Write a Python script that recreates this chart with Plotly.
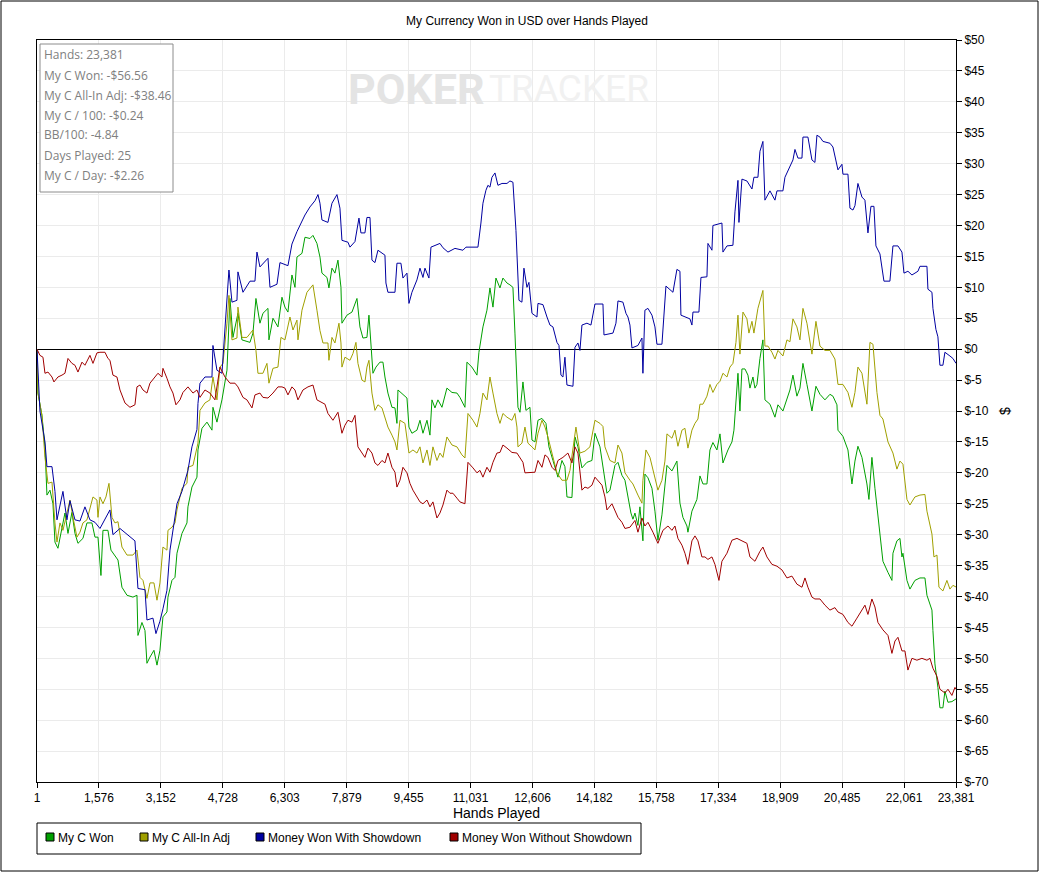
import plotly.graph_objects as go

# (hands played, dollars)
MY_C_WON = [
    (1, 0.0), (25, -7.1), (127, -10.7), (204, -15.8), (254, -23.6), (331, -22.8), (407, -25.0), (458, -31.2),
    (534, -32.2), (636, -29.0), (712, -26.5), (789, -29.8), (890, -26.4), (967, -29.8), (1043, -31.4),
    (1170, -30.6), (1272, -28.1), (1399, -28.1), (1476, -30.4), (1552, -30.4), (1628, -36.6), (1679, -29.3),
    (1806, -29.3), (1883, -32.5), (1984, -33.3), (2061, -34.1), (2162, -38.5), (2290, -39.8), (2442, -40.1),
    (2544, -39.8), (2569, -46.3), (2671, -44.2), (2748, -45.5), (2798, -50.8), (2875, -49.8), (2976, -48.7),
    (3053, -51.1), (3129, -48.7), (3205, -43.3), (3307, -42.5), (3333, -40.1), (3434, -37.4), (3511, -36.9),
    (3562, -33.0), (3689, -29.8), (3816, -28.1), (3841, -25.5), (3943, -22.3), (4070, -20.7), (4096, -16.3),
    (4198, -12.8), (4325, -11.8), (4452, -13.1), (4477, -9.4), (4579, -11.8), (4706, -8.2), (4834, -3.4),
    (4859, 1.5), (4910, 8.2), (4986, 1.9), (5113, 5.8), (5215, 1.5), (5419, 1.1), (5495, 2.6), (5571, 8.2),
    (5673, 4.2), (5749, 5.8), (5877, 6.6), (5902, 1.5), (6004, 5.0), (6131, 3.6), (6233, 8.4), (6309, 6.8),
    (6385, 6.0), (6436, 9.2), (6487, 12.0), (6564, 10.0), (6614, 14.9), (6742, 15.5), (6818, 18.1),
    (6945, 17.9), (7021, 18.4), (7123, 17.1), (7200, 14.9), (7250, 12.3), (7378, 11.6), (7428, 9.9),
    (7505, 13.1), (7581, 12.3), (7657, 14.4), (7734, 10.0), (7759, 4.2), (7886, 5.5), (8014, 6.0),
    (8141, 8.2), (8217, 3.6), (8293, 1.8), (8395, 1.9), (8446, 5.5), (8522, -1.3), (8548, -3.9),
    (8624, -2.9), (8726, -2.1), (8802, -2.1), (8853, -4.5), (8929, -7.1), (9031, -9.4), (9108, -9.5),
    (9158, -12.0), (9184, -6.6), (9311, -7.4), (9413, -7.9), (9464, -12.6), (9540, -13.6), (9667, -13.1),
    (9744, -11.5), (9820, -13.6), (9922, -11.5), (9998, -13.9), (10049, -8.2), (10125, -9.5), (10201, -8.2),
    (10303, -9.4), (10430, -6.3), (10558, -7.0), (10685, -7.1), (10761, -7.8), (10888, -9.4), (10939, -2.1),
    (11066, -2.9), (11194, -4.2), (11244, -0.5), (11346, 3.6), (11448, 6.3), (11524, 9.9), (11601, 6.8),
    (11677, 11.5), (11779, 9.9), (11855, 11.5), (11957, 10.7), (12033, 10.4), (12109, 10.0), (12160, 2.6),
    (12237, -9.4), (12288, -10.2), (12364, -5.3), (12440, -9.9), (12542, -9.4), (12593, -14.7),
    (12669, -15.0), (12746, -11.5), (12847, -11.2), (12949, -12.0), (13025, -15.8), (13127, -18.0),
    (13254, -20.7), (13356, -18.0), (13432, -19.0), (13483, -23.9), (13610, -24.0), (13687, -14.2),
    (13763, -15.8), (13865, -19.2), (13992, -18.3), (14119, -18.0), (14196, -13.6), (14323, -15.8),
    (14450, -20.9), (14501, -23.3), (14577, -22.8), (14704, -18.8), (14781, -18.3), (14882, -20.4),
    (14959, -21.2), (15035, -23.9), (15111, -26.5), (15162, -27.5), (15213, -26.5), (15289, -28.5),
    (15340, -25.5), (15416, -31.0), (15467, -20.2), (15544, -20.8), (15646, -22.5), (15722, -26.2),
    (15798, -30.9), (15900, -26.8), (15976, -22.5), (16027, -18.8), (16154, -19.7), (16281, -18.1),
    (16358, -24.9), (16434, -27.2), (16536, -28.6), (16561, -29.6), (16663, -26.2), (16790, -24.3),
    (16867, -20.5), (16943, -21.8), (17045, -21.8), (17121, -16.3), (17197, -15.1), (17299, -16.3),
    (17376, -13.7), (17452, -18.4), (17579, -16.3), (17681, -15.0), (17732, -13.1), (17808, -6.3),
    (17834, -3.9), (17884, -10.0), (17935, -3.2), (18012, -3.2), (18088, -4.2), (18139, -6.3),
    (18215, -4.5), (18266, -6.3), (18317, -5.7), (18393, -1.5), (18469, 1.5), (18520, -8.2), (18648, -8.9),
    (18775, -11.0), (18851, -9.0), (18978, -10.0), (19080, -8.2), (19156, -6.6), (19233, -4.2),
    (19334, -7.6), (19411, -6.3), (19487, -2.3), (19589, -5.7), (19716, -10.0), (19818, -6.0),
    (19920, -7.3), (20047, -8.2), (20174, -7.3), (20250, -7.6), (20352, -9.0), (20378, -13.1),
    (20505, -14.1), (20632, -16.3), (20734, -21.8), (20810, -18.1), (20886, -15.7), (20988, -17.5),
    (21115, -21.8), (21166, -24.3), (21242, -17.5), (21319, -22.5), (21370, -25.5), (21446, -29.3),
    (21522, -34.3), (21650, -36.1), (21751, -37.4), (21777, -33.0), (21878, -31.0), (21955, -30.6),
    (22006, -33.6), (22031, -33.0), (22133, -37.4), (22209, -38.8), (22336, -37.4), (22464, -37.0),
    (22591, -37.0), (22642, -39.8), (22769, -42.2), (22794, -45.5), (22845, -50.9), (22921, -54.7),
    (22972, -58.0), (23048, -58.0), (23099, -55.3), (23176, -57.1), (23277, -57.0), (23381, -56.56),
]

MY_C_ALLIN_ADJ = [
    (1, 0.0), (25, -7.1), (127, -10.7), (204, -17.5), (280, -21.7), (382, -21.5), (458, -28.1), (509, -31.2),
    (585, -28.1), (661, -29.3), (763, -26.5), (840, -24.4), (916, -27.2), (1018, -30.4), (1094, -29.6),
    (1170, -28.1), (1272, -27.6), (1348, -25.5), (1425, -23.9), (1526, -24.4), (1552, -27.2), (1603, -23.9),
    (1679, -25.0), (1755, -23.9), (1832, -21.7), (1908, -27.2), (1984, -28.1), (2061, -27.9), (2162, -32.0),
    (2290, -33.3), (2442, -33.3), (2544, -32.5), (2620, -36.9), (2697, -37.4), (2798, -40.3), (2875, -37.8),
    (2976, -37.8), (3053, -40.6), (3129, -37.8), (3205, -32.0), (3307, -32.5), (3333, -29.3), (3434, -28.8),
    (3511, -28.1), (3562, -26.0), (3689, -22.5), (3816, -21.7), (3841, -19.1), (3969, -18.8), (4096, -15.2),
    (4147, -9.9), (4274, -8.7), (4401, -8.2), (4477, -4.5), (4579, -8.2), (4656, -2.9), (4732, -2.3),
    (4834, 4.2), (4884, 8.7), (4961, 1.5), (5088, 1.8), (5113, 6.8), (5215, 1.9), (5342, 1.9), (5495, 3.1),
    (5571, -0.2), (5622, -3.9), (5749, -3.9), (5851, -2.3), (5902, -5.5), (6004, -3.1), (6131, -2.9),
    (6207, 1.9), (6309, 1.5), (6436, 5.2), (6513, 3.1), (6614, 4.7), (6640, 1.5), (6742, 6.3), (6869, 9.2),
    (7021, 10.4), (7123, 6.3), (7200, 3.0), (7276, 1.0), (7403, 1.0), (7428, -1.8), (7505, 1.9), (7581, 1.0),
    (7683, 4.2), (7734, 1.0), (7759, -2.9), (7835, -1.3), (7963, -1.8), (8039, -0.7), (8115, 1.1),
    (8166, -2.3), (8268, -5.0), (8344, -5.3), (8395, -2.9), (8446, -1.8), (8522, -7.1), (8599, -9.9),
    (8675, -9.0), (8777, -9.5), (8853, -11.0), (8929, -12.6), (9031, -13.9), (9108, -15.0), (9158, -16.3),
    (9235, -11.5), (9362, -12.0), (9464, -16.8), (9565, -16.3), (9667, -16.8), (9744, -15.8), (9820, -18.4),
    (9922, -16.3), (9998, -18.8), (10074, -15.8), (10176, -18.0), (10252, -16.8), (10329, -17.5),
    (10430, -14.2), (10558, -15.5), (10685, -15.8), (10812, -17.1), (10888, -17.6), (10965, -10.4),
    (11092, -11.5), (11194, -12.6), (11270, -10.4), (11346, -7.1), (11448, -8.2), (11524, -4.5),
    (11601, -7.1), (11702, -10.4), (11779, -12.0), (11855, -10.4), (11957, -11.0), (12084, -11.5),
    (12160, -10.4), (12211, -12.6), (12237, -15.8), (12338, -15.2), (12415, -12.6), (12491, -15.2),
    (12593, -15.8), (12669, -16.3), (12746, -13.6), (12847, -11.5), (12924, -12.6), (13000, -14.2),
    (13102, -16.8), (13229, -20.0), (13356, -21.2), (13483, -21.2), (13560, -19.6), (13636, -16.3),
    (13712, -12.6), (13814, -16.8), (13941, -16.5), (14068, -15.8), (14196, -11.5), (14323, -12.0),
    (14399, -12.5), (14450, -15.8), (14577, -18.0), (14704, -18.4), (14781, -15.5), (14882, -16.8),
    (14959, -20.0), (15086, -21.2), (15162, -21.8), (15289, -23.6), (15391, -24.9), (15416, -21.2),
    (15493, -16.3), (15595, -17.5), (15671, -19.4), (15798, -22.8), (15900, -21.2), (15976, -18.1),
    (16027, -13.7), (16154, -14.4), (16231, -13.1), (16307, -15.7), (16409, -13.1), (16485, -12.8),
    (16561, -16.0), (16663, -13.1), (16740, -12.0), (16816, -11.3), (16867, -8.9), (16943, -8.9),
    (17045, -7.6), (17121, -5.7), (17197, -7.0), (17299, -5.7), (17376, -5.2), (17452, -3.9), (17554, -4.5),
    (17630, -2.9), (17706, -2.3), (17783, 1.1), (17834, 5.5), (17884, -0.8), (17961, 6.0), (18062, 4.9),
    (18113, 2.6), (18190, 4.5), (18240, 2.6), (18342, 6.6), (18469, 9.5), (18520, 0.5), (18597, 0.5),
    (18698, -0.5), (18775, -1.6), (18851, -0.2), (18978, -1.1), (19080, 1.5), (19156, 1.2), (19233, 4.9),
    (19334, 3.6), (19411, 1.5), (19487, 6.6), (19589, 4.2), (19716, -0.8), (19818, 4.5), (19920, 0.5),
    (20047, -0.2), (20174, -0.2), (20301, -1.6), (20378, -5.7), (20505, -5.7), (20632, -7.0), (20734, -9.4),
    (20810, -7.0), (20886, -2.9), (20988, -3.9), (21115, -8.9), (21192, 1.1), (21268, 0.8), (21370, -7.0),
    (21446, -10.7), (21522, -11.3), (21650, -15.0), (21777, -16.8), (21878, -19.4), (21955, -18.1),
    (22031, -18.6), (22133, -24.3), (22209, -25.2), (22336, -23.9), (22464, -23.6), (22591, -23.5),
    (22642, -26.2), (22769, -29.9), (22820, -33.6), (22896, -33.3), (22947, -38.5), (23048, -39.1),
    (23150, -37.4), (23226, -38.8), (23303, -38.2), (23381, -38.46),
]

WITH_SHOWDOWN = [
    (1, 0.0), (76, -10.0), (204, -15.0), (254, -19.0), (382, -19.0), (458, -23.0), (509, -27.6), (585, -25.0),
    (661, -23.0), (763, -27.6), (840, -24.5), (967, -27.6), (1094, -27.8), (1221, -25.5), (1348, -27.6),
    (1476, -28.0), (1603, -29.0), (1857, -26.0), (1933, -30.0), (2112, -29.0), (2290, -30.0), (2493, -31.0),
    (2569, -38.7), (2748, -38.9), (2798, -43.8), (2951, -43.5), (3027, -46.0), (3129, -44.0), (3205, -42.0),
    (3307, -39.0), (3384, -32.5), (3562, -25.0), (3689, -23.0), (3841, -19.6), (3943, -15.8), (4070, -13.0),
    (4096, -8.8), (4147, -5.5), (4274, -4.5), (4452, -4.5), (4477, 0.6), (4579, -3.4), (4706, -3.9),
    (4783, 3.0), (4884, 12.8), (4961, 7.6), (5088, 7.9), (5113, 12.5), (5241, 9.2), (5419, 11.0),
    (5546, 11.0), (5597, 15.7), (5673, 13.3), (5877, 14.7), (5928, 10.0), (6106, 10.5), (6182, 14.0),
    (6385, 13.5), (6487, 17.0), (6614, 19.0), (6818, 21.7), (6945, 23.0), (7072, 24.0), (7149, 25.0),
    (7200, 23.6), (7250, 20.9), (7403, 20.5), (7505, 23.6), (7632, 25.0), (7708, 22.8), (7759, 17.6),
    (7912, 17.3), (7963, 16.5), (8090, 17.4), (8141, 19.7), (8192, 21.2), (8242, 18.8), (8344, 18.8),
    (8395, 21.3), (8472, 21.3), (8522, 14.4), (8599, 14.0), (8675, 16.0), (8853, 15.2), (8878, 10.7),
    (8929, 9.2), (9108, 9.2), (9158, 13.9), (9260, 13.9), (9311, 11.5), (9413, 12.3), (9464, 7.4),
    (9540, 9.2), (9667, 11.2), (9744, 13.1), (9820, 11.6), (9871, 13.1), (9972, 11.5), (10023, 16.5),
    (10125, 16.8), (10252, 17.1), (10329, 16.4), (10456, 15.7), (10634, 16.3), (10837, 16.0),
    (10914, 16.5), (11219, 16.5), (11295, 20.4), (11346, 23.6), (11422, 25.7), (11473, 26.5),
    (11524, 26.2), (11575, 27.8), (11652, 28.5), (11728, 26.5), (11830, 26.8), (11957, 26.8),
    (12033, 27.2), (12109, 27.0), (12186, 19.2), (12262, 7.9), (12338, 7.6), (12389, 13.1), (12466, 10.0),
    (12516, 10.8), (12593, 5.8), (12720, 5.2), (12746, 7.4), (12873, 7.2), (12975, 5.2), (13051, 3.9),
    (13127, 3.6), (13229, 1.1), (13280, 0.6), (13331, -4.2), (13381, -4.5), (13432, -1.3), (13483, -5.8),
    (13636, -6.0), (13687, 0.3), (13763, 1.0), (13814, -0.2), (13865, 3.9), (13992, 4.2), (14094, 3.9),
    (14196, 7.3), (14399, 7.3), (14425, 2.3), (14654, 2.6), (14730, 4.2), (14781, 7.8), (14908, 7.6),
    (14984, 5.8), (15035, 5.2), (15086, 3.9), (15137, 0.2), (15289, 0.6), (15391, 1.8), (15416, -3.9),
    (15467, 6.3), (15544, 6.6), (15646, 5.5), (15722, 3.6), (15773, 0.8), (15900, 0.8), (15925, 3.1),
    (16002, 10.2), (16180, 9.2), (16281, 12.9), (16358, 12.6), (16383, 5.5), (16612, 4.9), (16663, 3.9),
    (16689, 6.0), (16841, 6.0), (16892, 11.6), (17045, 11.7), (17070, 17.1), (17172, 16.0), (17197, 20.0),
    (17426, 20.4), (17452, 15.7), (17554, 16.7), (17706, 16.8), (17757, 22.2), (17834, 27.3), (17859, 20.5),
    (17935, 27.5), (18062, 27.2), (18190, 25.9), (18240, 27.8), (18342, 27.8), (18393, 32.0), (18469, 33.6),
    (18520, 24.1), (18648, 25.6), (18775, 24.1), (18826, 25.6), (18978, 25.6), (19029, 27.8), (19156, 29.6),
    (19233, 30.6), (19284, 32.3), (19360, 30.9), (19462, 30.9), (19487, 34.3), (19614, 34.3), (19716, 30.6),
    (19792, 30.2), (19843, 34.6), (19920, 34.3), (19996, 33.6), (20174, 33.3), (20250, 32.7), (20378, 29.0),
    (20479, 29.9), (20505, 28.3), (20632, 28.3), (20683, 22.8), (20759, 22.5), (20810, 23.2), (20886, 26.8),
    (20988, 24.6), (21064, 24.1), (21141, 18.8), (21217, 23.1), (21293, 23.1), (21344, 16.7), (21446, 15.4),
    (21548, 11.0), (21700, 11.0), (21777, 16.7), (21904, 16.7), (22006, 15.7), (22057, 12.3), (22158, 12.6),
    (22260, 12.0), (22413, 12.6), (22464, 13.4), (22642, 13.4), (22667, 9.7), (22769, 9.2), (22794, 6.6),
    (22870, 3.2), (22921, 2.0), (22972, -2.6), (23048, -2.6), (23099, -0.5), (23226, -1.1), (23303, -1.5),
    (23381, -2.3),
]

WITHOUT_SHOWDOWN = [
    (1, 0.0), (76, -1.0), (153, -1.3), (204, -3.9), (280, -3.7), (382, -4.5), (432, -5.3), (534, -4.5),
    (636, -4.2), (712, -3.9), (789, -1.5), (890, -2.3), (967, -2.6), (1043, -3.7), (1145, -2.1), (1221, -2.6),
    (1348, -1.0), (1425, -2.3), (1526, -0.6), (1603, -0.5), (1730, -0.5), (1806, -1.5), (1857, -1.8),
    (1933, -4.2), (2035, -4.5), (2112, -6.6), (2239, -8.7), (2366, -9.4), (2493, -9.0), (2544, -6.1),
    (2620, -5.8), (2697, -6.6), (2798, -7.1), (2875, -5.5), (3002, -4.5), (3078, -3.9), (3180, -4.5),
    (3205, -3.1), (3307, -4.7), (3384, -6.1), (3460, -7.1), (3536, -9.0), (3638, -8.2), (3714, -7.0),
    (3841, -6.1), (3969, -7.1), (4070, -6.6), (4147, -7.8), (4274, -6.6), (4401, -7.1), (4528, -8.2),
    (4656, -2.9), (4783, -4.5), (4910, -5.5), (5037, -5.5), (5113, -6.1), (5241, -7.8), (5342, -8.2),
    (5470, -9.5), (5546, -7.4), (5673, -7.1), (5749, -7.8), (5877, -7.9), (6004, -7.1), (6131, -6.1),
    (6233, -6.1), (6309, -6.3), (6385, -7.4), (6487, -6.1), (6564, -6.6), (6640, -8.2), (6767, -6.6),
    (6894, -6.1), (7021, -5.8), (7123, -8.2), (7250, -8.7), (7327, -8.9), (7403, -10.4), (7530, -11.5),
    (7657, -10.2), (7759, -13.6), (7835, -12.3), (7912, -11.5), (8014, -11.8), (8090, -10.7), (8166, -15.8),
    (8268, -16.8), (8344, -17.5), (8421, -16.0), (8522, -16.8), (8599, -18.4), (8675, -18.8), (8777, -18.0),
    (8853, -18.4), (8929, -16.8), (9031, -19.1), (9108, -19.9), (9158, -22.3), (9235, -21.2), (9311, -19.1),
    (9413, -20.0), (9489, -21.7), (9565, -22.8), (9667, -23.9), (9744, -24.7), (9820, -25.0), (9922, -24.4),
    (9998, -25.5), (10074, -24.7), (10176, -27.3), (10252, -26.5), (10329, -25.2), (10430, -22.8),
    (10507, -23.3), (10583, -23.3), (10685, -24.1), (10761, -24.7), (10888, -25.0), (10965, -18.3),
    (11092, -19.2), (11194, -20.0), (11270, -19.6), (11346, -20.7), (11448, -19.1), (11524, -19.9),
    (11601, -18.3), (11702, -16.8), (11779, -16.7), (11855, -15.5), (11957, -16.0), (12084, -16.7),
    (12211, -16.8), (12288, -17.5), (12364, -18.3), (12415, -20.0), (12542, -20.0), (12669, -19.9),
    (12746, -18.0), (12847, -19.1), (12924, -17.1), (13000, -17.5), (13102, -19.1), (13178, -19.6),
    (13254, -18.0), (13381, -17.5), (13508, -16.8), (13610, -18.4), (13687, -15.8), (13763, -16.8),
    (13865, -22.8), (13941, -22.3), (14018, -22.5), (14119, -22.0), (14196, -20.7), (14272, -21.2),
    (14374, -22.0), (14450, -23.9), (14501, -26.0), (14628, -25.0), (14704, -26.0), (14781, -27.2),
    (14882, -28.0), (14959, -29.0), (15086, -28.8), (15213, -27.7), (15289, -29.6), (15391, -27.3),
    (15467, -28.6), (15544, -28.0), (15671, -29.6), (15798, -31.4), (15925, -29.3), (16053, -28.6),
    (16154, -29.3), (16231, -28.6), (16307, -30.6), (16409, -31.7), (16485, -33.0), (16561, -34.8),
    (16663, -31.0), (16740, -30.2), (16816, -31.0), (16917, -33.6), (16994, -33.6), (17070, -34.0),
    (17172, -33.6), (17248, -34.8), (17350, -37.4), (17426, -34.3), (17554, -33.0), (17681, -30.9),
    (17808, -30.6), (17935, -31.0), (18062, -31.4), (18139, -33.6), (18266, -34.3), (18393, -32.7),
    (18469, -32.0), (18571, -33.6), (18698, -34.8), (18826, -35.1), (18953, -35.7), (19080, -37.0),
    (19207, -36.7), (19334, -38.0), (19462, -38.5), (19538, -37.0), (19614, -38.5), (19716, -40.1),
    (19792, -40.4), (19920, -40.4), (20047, -41.4), (20174, -42.2), (20301, -41.8), (20378, -42.5),
    (20505, -42.9), (20632, -44.2), (20734, -44.8), (20861, -43.5), (20988, -42.2), (21064, -41.4),
    (21141, -42.9), (21242, -40.4), (21319, -41.7), (21395, -44.2), (21522, -45.4), (21650, -46.3),
    (21751, -49.2), (21828, -47.2), (21904, -46.6), (22006, -48.8), (22082, -48.8), (22158, -51.9),
    (22260, -50.0), (22387, -50.3), (22514, -50.0), (22642, -50.3), (22718, -50.0), (22794, -51.6),
    (22896, -52.9), (22972, -55.0), (23099, -55.6), (23176, -55.0), (23277, -56.0), (23354, -54.7),
    (23381, -55.0),
]

SERIES = [
    ("My C Won", MY_C_WON, "#00a000"),
    ("My C All-In Adj", MY_C_ALLIN_ADJ, "#a0a000"),
    ("Money Won With Showdown", WITH_SHOWDOWN, "#0000a0"),
    ("Money Won Without Showdown", WITHOUT_SHOWDOWN, "#a00000"),
]

STATS = [
    "Hands: 23,381",
    "My C Won: -$56.56",
    "My C All-In Adj: -$38.46",
    "My C / 100: -$0.24",
    "BB/100: -4.84",
    "Days Played: 25",
    "My C / Day: -$2.26",
]

X_TICKS = [1, 1576, 3152, 4728, 6303, 7879, 9455, 11031, 12606, 14182,
           15758, 17334, 18909, 20485, 22061, 23381]
Y_TICKS = list(range(-70, 51, 5))

# plot area in pixels: left 37, right 956, top 40, bottom 782
L, R, T, B = 37, 956, 40, 782
W, H = 1040, 873
LEGEND_X = [46, 140, 256, 450]  # swatch left edges of the boxed legend


def px(x):
    return (x - L) / (R - L)


def py(y):
    return (B - y) / (B - T)


fig = go.Figure()

for name, pts, color in SERIES:
    hands, vals = zip(*pts)
    fig.add_trace(go.Scatter(
        x=hands, y=vals, mode="lines", name=name, showlegend=False,
        line=dict(color=color, width=1),
        hovertemplate=f"<b>{name}</b><br>Hands: %{{x:,}}<br>$%{{y:.2f}}<extra></extra>",
    ))

# stats box
fig.add_shape(type="rect", xref="paper", yref="paper",
              x0=px(40), x1=px(173), y0=py(192), y1=py(44),
              line=dict(color="#8c8c8c", width=1), fillcolor="white", layer="above")
for i, line in enumerate(STATS):
    fig.add_annotation(xref="paper", yref="paper", x=px(42), y=py(55 + 20 * i),
                       xanchor="left", yanchor="middle", showarrow=False, text=line,
                       font=dict(family="Open Sans, Noto Sans, sans-serif", size=12, color="#808080"))

# watermark
fig.add_annotation(xref="paper", yref="paper", x=px(346), y=py(89), xanchor="left", yanchor="middle",
                   showarrow=False, text="<b>POKER</b>",
                   font=dict(family="Roboto", size=43, color="#e4e4e4"))
fig.add_annotation(xref="paper", yref="paper", x=px(651), y=py(89), xanchor="right", yanchor="middle",
                   showarrow=False, text="TRACKER",
                   font=dict(family="Roboto", size=37, color="#f1f1f1"))

# boxed legend below the axis
fig.add_shape(type="rect", xref="paper", yref="paper",
              x0=px(37), x1=px(641), y0=py(854), y1=py(823),
              line=dict(color="black", width=1))
for (name, pts, color), lx in zip(SERIES, LEGEND_X):
    fig.add_shape(type="rect", xref="paper", yref="paper",
                  x0=px(lx), x1=px(lx + 8), y0=py(841), y1=py(833),
                  line=dict(color="black", width=1), fillcolor=color)
    fig.add_annotation(xref="paper", yref="paper", x=px(lx + 10), y=py(838),
                       xanchor="left", yanchor="middle", showarrow=False, text=name,
                       font=dict(size=12, color="black"))

# outer frame
fig.add_shape(type="rect", xref="paper", yref="paper",
              x0=px(1), x1=px(1038), y0=py(871), y1=py(1),
              line=dict(color="black", width=1))

fig.update_layout(
    width=W, height=H,
    margin=dict(l=L, r=W - R, t=T, b=H - B),
    paper_bgcolor="white", plot_bgcolor="white",
    font=dict(family="Liberation Sans, Arial, sans-serif", size=12, color="black"),
    showlegend=False,
    title=dict(text="My Currency Won in USD over Hands Played", x=527 / W, xref="container",
               xanchor="center", y=1 - 21 / H, yanchor="middle",
               font=dict(size=12, color="black")),
    xaxis=dict(range=[1, 23381], tickvals=X_TICKS, tickformat=",d",
               ticks="outside", ticklen=5, tickcolor="black",
               showline=True, linecolor="black", linewidth=1, mirror=True,
               showgrid=True, gridcolor="#ebebeb", zeroline=False,
               title=dict(text="Hands Played", standoff=2)),
    yaxis=dict(range=[-70, 50], side="right", tickvals=Y_TICKS,
               ticktext=[f"${v}" for v in Y_TICKS],
               ticks="outside", ticklen=5, tickcolor="black",
               showline=True, linecolor="black", linewidth=1, mirror=True,
               showgrid=True, gridcolor="#ebebeb",
               zeroline=True, zerolinecolor="black", zerolinewidth=1,
               title=dict(text="$", standoff=12)),
)

# the page body has a default 8px margin; drop it so the chart fills the window
fig.write_html("out.html", config={"displayModeBar": False},
               post_script="document.body.style.margin = '0';")
